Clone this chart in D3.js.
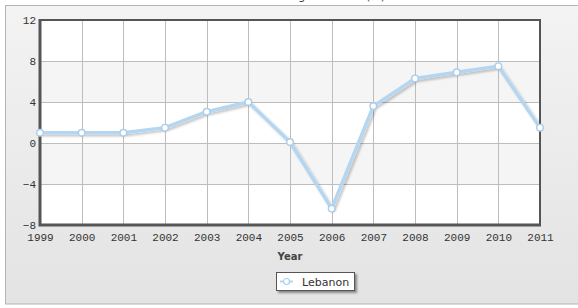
<!DOCTYPE html>
<html>
<head>
<meta charset="utf-8">
<script src="https://cdn.jsdelivr.net/npm/d3@7"></script>
<style>
  html, body { margin: 0; padding: 0; background: #fff; }
  svg { display: block; }
</style>
</head>
<body>
<svg id="chart"></svg>
<script>
// ── Data ──────────────────────────────────────────────
const years   = [1999, 2000, 2001, 2002, 2003, 2004, 2005, 2006, 2007, 2008, 2009, 2010, 2011];
const growth  = [1.0, 1.0, 1.0, 1.5, 3.05, 4.0, 0.1, -6.4, 3.6, 6.3, 6.9, 7.5, 1.5];
const yTicks  = [-8, -4, 0, 4, 8, 12];
const series  = 'Lebanon';
const xTitle  = 'Year';
const title   = 'GDP growth rate (%)';

const W = 578, H = 308;
const plot = { left: 40, top: 20, right: 540, bottom: 225 };

const svg = d3.select('#chart').attr('width', W).attr('height', H);
const defs = svg.append('defs');

// panel background gradient
const grad = defs.append('linearGradient')
  .attr('id', 'bg').attr('x1', 0).attr('y1', 0).attr('x2', 0).attr('y2', 1);
grad.append('stop').attr('offset', '0%').attr('stop-color', '#f3f3f3');
grad.append('stop').attr('offset', '100%').attr('stop-color', '#e3e3e3');

const shadow = defs.append('filter').attr('id', 'shadow')
  .attr('x', '-10%').attr('y', '-10%').attr('width', '130%').attr('height', '130%');
shadow.append('feDropShadow')
  .attr('dx', 2).attr('dy', 2).attr('stdDeviation', 1.2)
  .attr('flood-color', '#000').attr('flood-opacity', 0.22);

const boxShadow = defs.append('filter').attr('id', 'boxShadow')
  .attr('x', '-10%').attr('y', '-20%').attr('width', '130%').attr('height', '160%');
boxShadow.append('feDropShadow')
  .attr('dx', 2).attr('dy', 2).attr('stdDeviation', 0.8)
  .attr('flood-color', '#000').attr('flood-opacity', 0.4);

// outer panel
svg.append('rect')
  .attr('x', 5.5).attr('y', 5.5).attr('width', W + 10).attr('height', 298.5)
  .attr('fill', 'url(#bg)').attr('stroke', '#b4b4b4').attr('stroke-width', 1);

// title (mostly clipped off at the top edge, as in the reference)
svg.append('text')
  .attr('x', 385).attr('y', -0.3)
  .attr('text-anchor', 'end')
  .attr('font-family', 'DejaVu Sans, sans-serif').attr('font-size', 11)
  .attr('fill', '#333')
  .text(title);

// ── Scales ───────────────────────────────────────────
const x = d3.scaleLinear().domain([years[0], years[years.length - 1]]).range([plot.left, plot.right]);
const y = d3.scaleLinear().domain([-8, 12]).range([plot.bottom, plot.top]);

// plot background + alternating bands
svg.append('rect')
  .attr('x', plot.left).attr('y', plot.top)
  .attr('width', plot.right - plot.left).attr('height', plot.bottom - plot.top)
  .attr('fill', '#fff');

svg.append('g').selectAll('rect')
  .data(d3.pairs(yTicks).filter((p, i) => i % 2 === 1))
  .join('rect')
    .attr('x', plot.left)
    .attr('y', d => y(d[1]))
    .attr('width', plot.right - plot.left)
    .attr('height', d => y(d[0]) - y(d[1]))
    .attr('fill', '#f5f5f5');

// grid
svg.append('g')
  .attr('transform', `translate(0,${plot.bottom})`)
  .call(d3.axisBottom(x).tickValues(years).tickSize(-(plot.bottom - plot.top)).tickFormat(''))
  .call(g => g.select('.domain').remove())
  .call(g => g.selectAll('line').attr('stroke', '#bdbdbd').attr('shape-rendering', 'crispEdges'));

svg.append('g')
  .attr('transform', `translate(${plot.left},0)`)
  .call(d3.axisLeft(y).tickValues(yTicks).tickSize(-(plot.right - plot.left)).tickFormat(''))
  .call(g => g.select('.domain').remove())
  .call(g => g.selectAll('line').attr('stroke', '#bdbdbd').attr('shape-rendering', 'crispEdges'));

// frame
svg.append('rect')
  .attr('x', plot.left).attr('y', plot.top)
  .attr('width', plot.right - plot.left).attr('height', plot.bottom - plot.top)
  .attr('fill', 'none').attr('stroke', '#555').attr('stroke-width', 2);
svg.append('path')
  .attr('d', `M${plot.left},${plot.top - 1}V${plot.bottom}H${plot.right + 1}`)
  .attr('fill', 'none').attr('stroke', '#555').attr('stroke-width', 3);

// tick labels
const axisFont = 'Liberation Mono, DejaVu Sans Mono, monospace';
svg.append('g')
  .attr('transform', `translate(0,${plot.bottom})`)
  .call(d3.axisBottom(x).tickValues(years).tickSize(0).tickPadding(8).tickFormat(d3.format('d')))
  .call(g => g.select('.domain').remove())
  .call(g => g.selectAll('text')
    .attr('font-family', axisFont).attr('font-size', 11).attr('fill', '#333'));

svg.append('g')
  .attr('transform', `translate(${plot.left},0)`)
  .call(d3.axisLeft(y).tickValues(yTicks).tickSize(0).tickPadding(4))
  .call(g => g.select('.domain').remove())
  .call(g => g.selectAll('text')
    .attr('font-family', axisFont).attr('font-size', 11).attr('fill', '#333'));

// axis title
svg.append('text')
  .attr('x', (plot.left + plot.right) / 2).attr('y', 260)
  .attr('text-anchor', 'middle')
  .attr('font-family', 'DejaVu Sans, sans-serif').attr('font-size', 10).attr('font-weight', 'bold')
  .attr('fill', '#444')
  .text(xTitle);

// ── Series ───────────────────────────────────────────
const line = d3.line().x((d, i) => x(years[i])).y(d => y(d));

svg.append('path')
  .datum(growth)
  .attr('d', line)
  .attr('fill', 'none')
  .attr('stroke', '#b5d6f0')
  .attr('stroke-width', 3.5)
  .attr('stroke-linejoin', 'round')
  .attr('filter', 'url(#shadow)');

svg.append('g').selectAll('circle')
  .data(growth)
  .join('circle')
    .attr('cx', (d, i) => x(years[i]))
    .attr('cy', d => y(d))
    .attr('r', 3.3)
    .attr('fill', '#fff')
    .attr('stroke', '#a9cdec')
    .attr('stroke-width', 1.4);

// ── Legend ───────────────────────────────────────────
const lg = svg.append('g').attr('transform', 'translate(276,272)');
lg.append('rect')
  .attr('x', 0.5).attr('y', 0.5).attr('width', 78).attr('height', 18)
  .attr('fill', '#fff').attr('stroke', '#555').attr('stroke-width', 1)
  .attr('filter', 'url(#boxShadow)');
lg.append('line')
  .attr('x1', 4).attr('x2', 17).attr('y1', 9.5).attr('y2', 9.5)
  .attr('stroke', '#b5d6f0').attr('stroke-width', 2);
lg.append('circle')
  .attr('cx', 10.5).attr('cy', 9.5).attr('r', 3)
  .attr('fill', '#fff').attr('stroke', '#a9cdec').attr('stroke-width', 1.2);
lg.append('text')
  .attr('x', 26).attr('y', 13.5)
  .attr('font-family', 'DejaVu Sans, sans-serif').attr('font-size', 11)
  .attr('fill', '#333')
  .text(series);
</script>
</body>
</html>
